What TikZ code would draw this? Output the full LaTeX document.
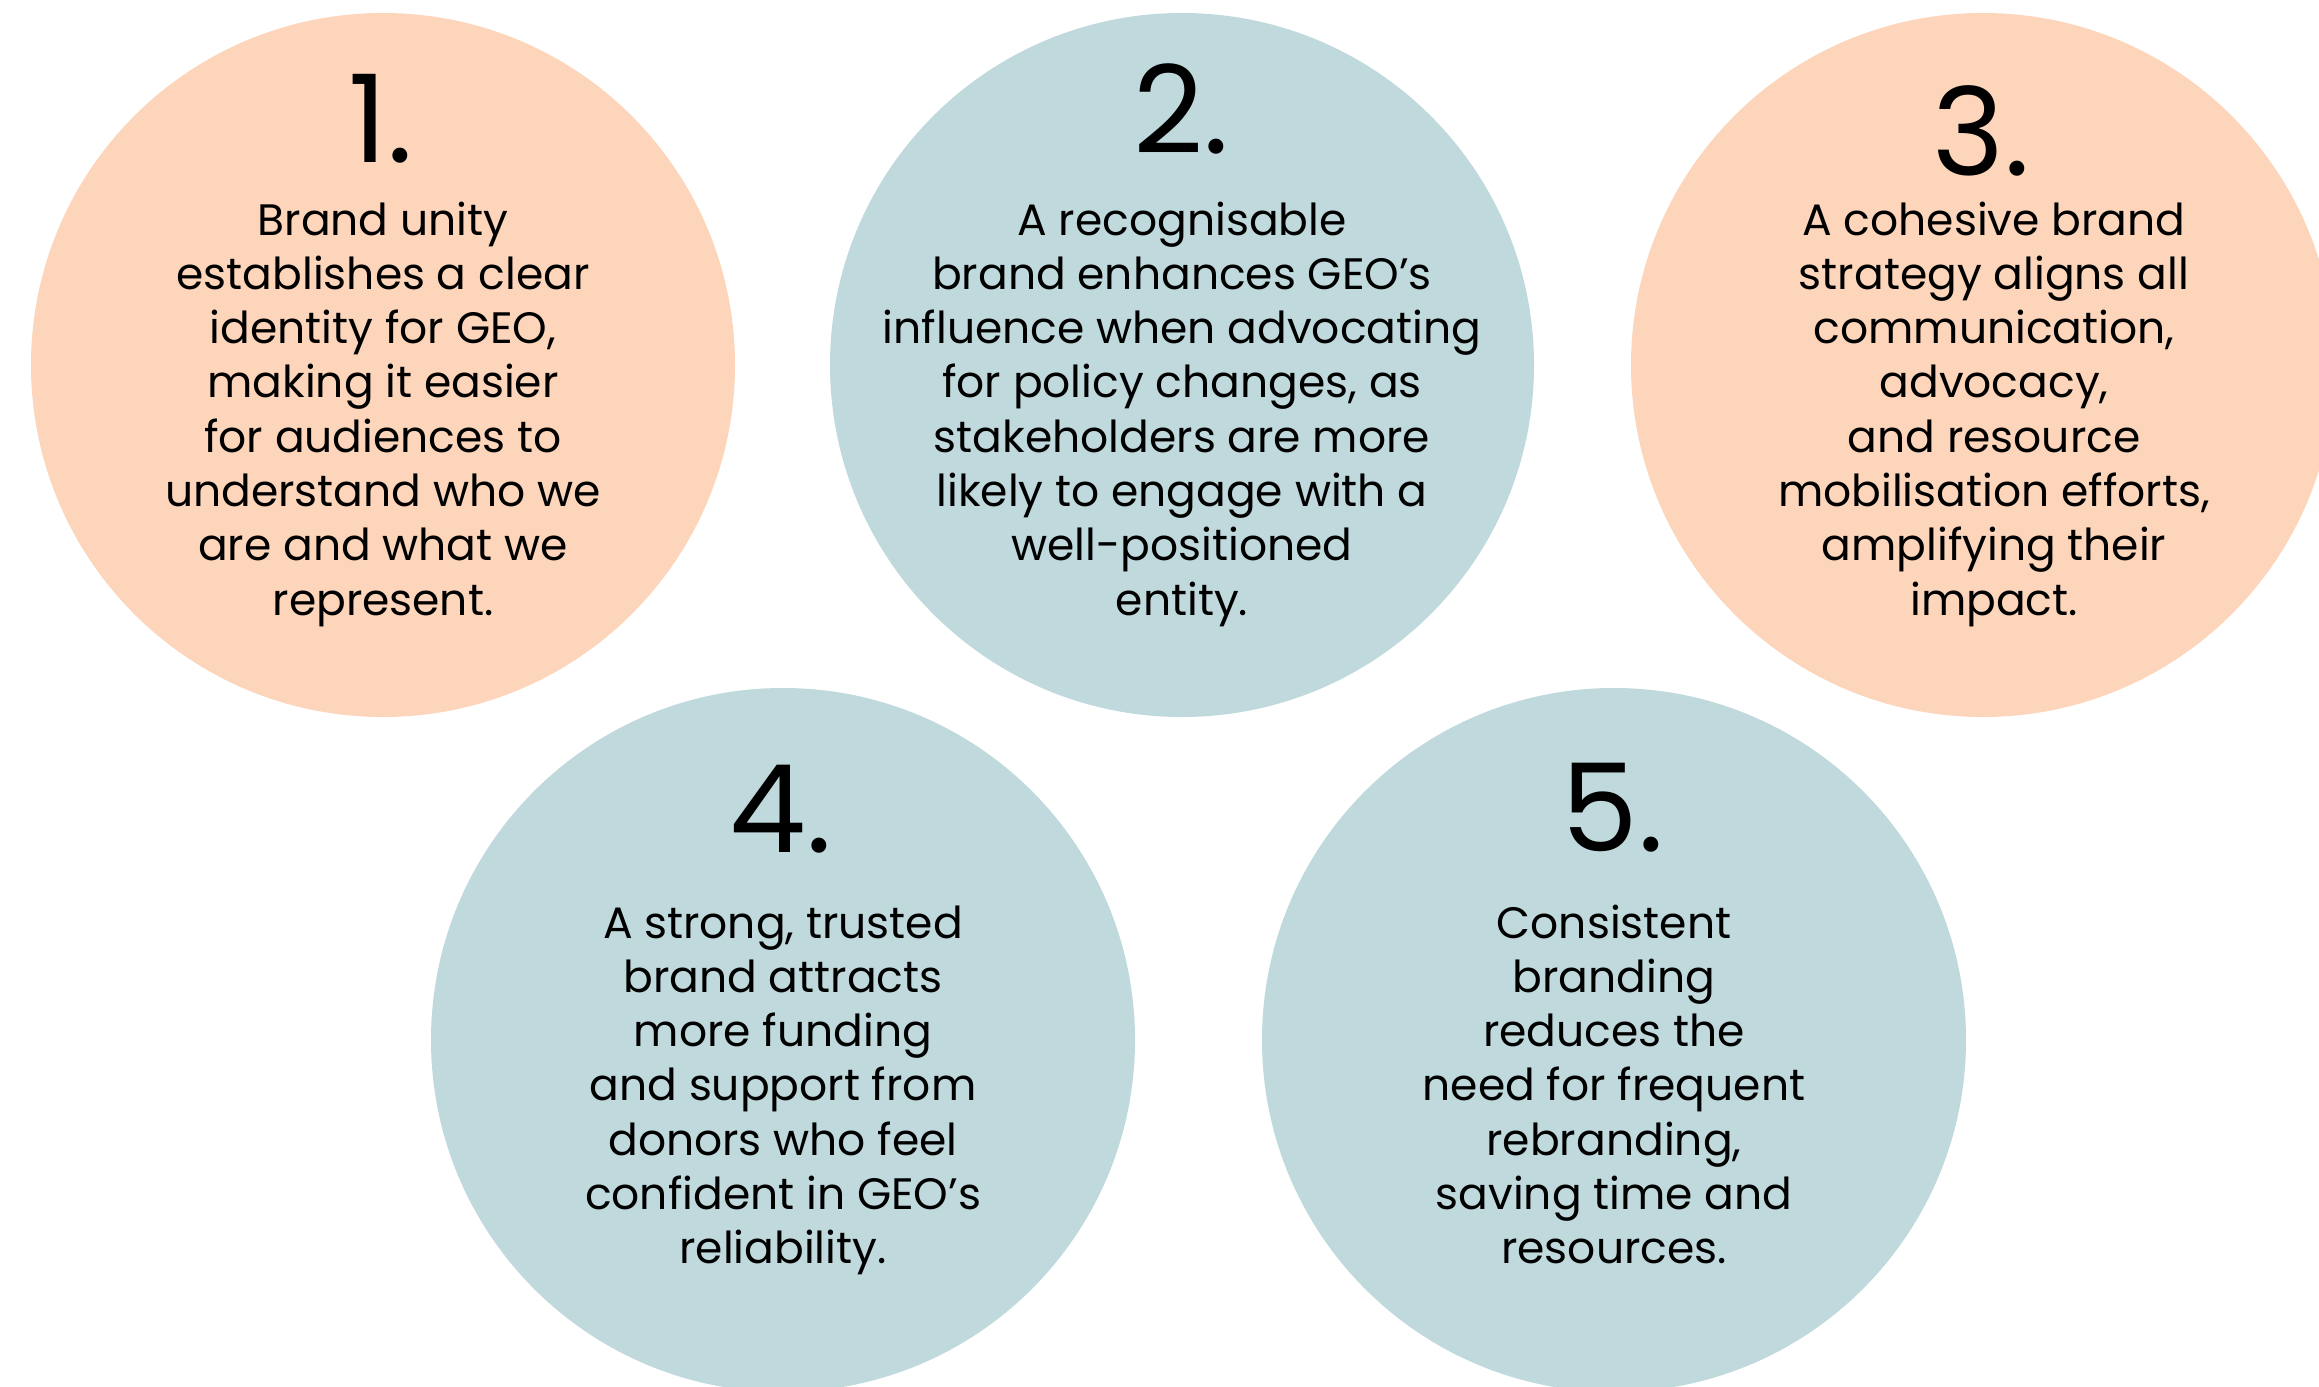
\documentclass[tikz,border=0pt]{standalone}
\usepackage{fontspec}
\setmainfont{Poppins}
\definecolor{peach}{HTML}{FCD5BB}
\definecolor{mist}{HTML}{BFD9DC}
\newcommand\stacked[1]{\begin{tabular}[t]{@{}c@{}}#1\end{tabular}}
\begin{document}
\begin{tikzpicture}[x=1pt,y=-1pt,
  disc/.style={circle, minimum size=704pt, inner sep=0pt, draw=none},
  numeral/.style={anchor=base, inner sep=0pt, font=\fontsize{122}{122}\selectfont},
  blurb/.style={anchor=base, inner sep=0pt, font=\fontsize{44}{54.3}\selectfont}]
\useasboundingbox (0,0) rectangle (2319,1387);
\fill[white] (0,0) rectangle (2319,1387);

% the five discs
\node[disc, fill=peach] (c1) at (383,365) {};
\node[disc, fill=mist]  (c2) at (1182,365) {};
\node[disc, fill=peach] (c3) at (1983,365) {};
\node[disc, fill=mist]  (c4) at (783,1040) {};
\node[disc, fill=mist]  (c5) at (1614,1040) {};

% numbers
\node[numeral] (n1) at (381,162) {1.};
\node[numeral] (n2) at (1181,153) {2.};
\node[numeral] (n3) at (1981,175) {3.};
\node[numeral] (n4) at (781,852) {4.};
\node[numeral] (n5) at (1613,851) {5.};

% descriptions
\node[blurb] (t1) at (383,235) {\stacked{Brand unity\\ establishes a clear\\ identity for GEO,\\ making it easier\\ for audiences to\\ understand who we\\ are and what we\\ represent.}};
\node[blurb] (t2) at (1182,235) {\stacked{A recognisable\\ brand enhances GEO’s\\ influence when advocating\\ for policy changes, as\\ stakeholders are more\\ likely to engage with a\\ well-positioned\\ entity.}};
\node[blurb] (t3) at (1994,235) {\stacked{A cohesive brand\\ strategy aligns all\\ communication,\\ advocacy,\\ and resource\\ mobilisation efforts,\\ amplifying their\\ impact.}};
\node[blurb] (t4) at (783,938) {\stacked{A strong, trusted\\ brand attracts\\ more funding\\ and support from\\ donors who feel\\ confident in GEO’s\\ reliability.}};
\node[blurb] (t5) at (1614,938) {\stacked{Consistent\\ branding\\ reduces the\\ need for frequent\\ rebranding,\\ saving time and\\ resources.}};
\end{tikzpicture}
\end{document}
